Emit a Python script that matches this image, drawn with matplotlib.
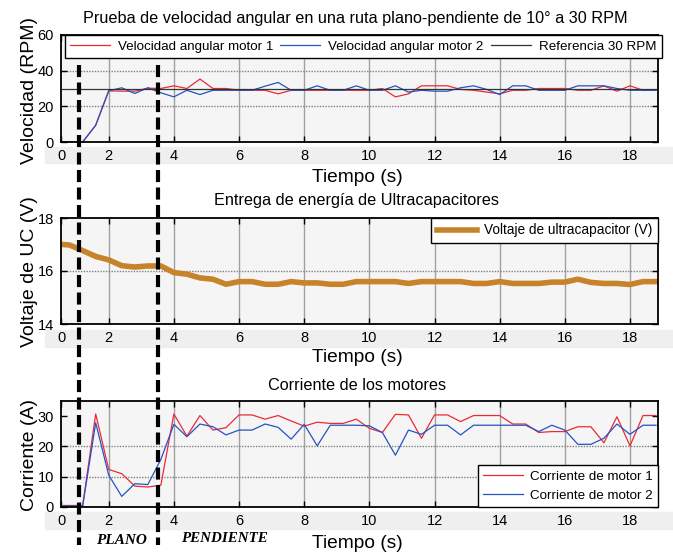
import matplotlib
matplotlib.use("Agg")
import matplotlib.pyplot as plt
from matplotlib.lines import Line2D
from matplotlib.patches import Rectangle
from matplotlib.transforms import blended_transform_factory

# muestras cada 0.4 s
tiempo = [0.4, 0.8, 1.2, 1.6, 2.0, 2.4, 2.8, 3.2, 3.6, 4.0,
          4.4, 4.8, 5.2, 5.6, 6.0, 6.4, 6.8, 7.2, 7.6, 8.0,
          8.4, 8.8, 9.2, 9.6, 10.0, 10.4, 10.8, 11.2, 11.6, 12.0,
          12.4, 12.8, 13.2, 13.6, 14.0, 14.4, 14.8, 15.2, 15.6, 16.0,
          16.4, 16.8, 17.2, 17.6, 18.0, 18.4, 18.8]

vel_motor1 = [0, 0, 0, 9.4, 28.7, 28.5, 28.5, 30.2, 30.0, 31.5,
              30.0, 35.3, 30.0, 30.0, 29.0, 29.0, 29.0, 27.0, 29.0, 29.0,
              29.0, 29.0, 29.0, 29.0, 29.0, 30.0, 25.3, 27.0, 31.5, 31.5,
              31.5, 29.5, 29.0, 28.0, 27.0, 29.0, 29.0, 30.0, 30.0, 30.0,
              29.0, 29.0, 31.5, 28.5, 31.5, 29.0, 29.0]
vel_motor2 = [0, 0, 0, 9.4, 28.7, 30.4, 27.2, 30.4, 27.6, 25.3,
              29.0, 26.6, 29.0, 29.0, 29.0, 29.0, 31.3, 33.4, 29.0, 29.0,
              31.5, 29.0, 29.0, 31.5, 29.0, 29.0, 31.5, 28.0, 29.0, 28.5,
              28.5, 30.4, 31.5, 29.5, 26.6, 31.5, 31.5, 29.0, 29.0, 29.0,
              31.5, 31.5, 31.5, 30.0, 29.0, 29.0, 29.0]
vel_referencia = 30

voltaje_uc = [17.02, 16.98, 16.77, 16.55, 16.42, 16.20, 16.15, 16.19, 16.19, 15.94,
              15.88, 15.74, 15.69, 15.50, 15.60, 15.60, 15.50, 15.50, 15.60, 15.55,
              15.55, 15.50, 15.50, 15.60, 15.60, 15.60, 15.60, 15.53, 15.60, 15.60,
              15.60, 15.60, 15.53, 15.53, 15.60, 15.53, 15.53, 15.53, 15.58, 15.58,
              15.69, 15.57, 15.53, 15.53, 15.49, 15.60, 15.60]

corr_motor1 = [0.5, 0.5, 0.5, 30.7, 12.4, 11.0, 6.9, 6.6, 7.2, 30.7,
               23.4, 30.2, 25.4, 26.2, 30.4, 30.4, 29.0, 30.2, 28.4, 26.7,
               28.0, 27.6, 27.6, 29.0, 26.0, 24.6, 30.6, 30.4, 22.7, 30.4,
               30.4, 28.2, 30.2, 30.2, 30.2, 27.4, 27.4, 24.6, 24.9, 24.9,
               26.5, 26.5, 21.2, 29.8, 20.2, 30.2, 30.2]
corr_motor2 = [0.3, 0.3, 0.3, 27.8, 10.5, 3.5, 7.7, 7.4, 15.7, 27.3,
               23.2, 27.4, 26.5, 23.8, 25.4, 25.4, 27.4, 26.3, 22.4, 27.3,
               20.2, 27.0, 27.0, 27.0, 26.8, 24.6, 17.1, 25.4, 24.0, 27.0,
               27.0, 23.8, 27.0, 27.0, 27.0, 27.0, 27.0, 24.9, 27.0, 25.4,
               20.7, 20.7, 22.7, 27.4, 24.0, 27.0, 27.0]

# cambio de tramo: plano -> pendiente
t_inicio = 1.1
t_pendiente = 3.5

x_min, x_max = 0.535, 18.86
x_ticks = [x_min, 2, 4, 6, 8, 10, 12, 14, 16, 18]
x_ticklabels = ["0", "2", "4", "6", "8", "10", "12", "14", "16", "18"]

ROJO = "#ec2a36"
AZUL = "#2453c4"
NARANJA = "#c6832a"
FONDO = "#f5f5f5"
plt.rcParams["font.family"] = ["Liberation Sans", "DejaVu Sans"]

W, H = 673, 554
fig = plt.figure(figsize=(W / 100, H / 100), dpi=100)


def caja(top, bottom):
    return [61 / W, 1 - bottom / H, (658 - 61) / W, (bottom - top) / H]


def estilo(ax, yticks, ylim):
    ax.set_facecolor(FONDO)
    ax.set_xlim(x_min, x_max)
    ax.set_ylim(*ylim)
    ax.set_xticks(x_ticks)
    ax.set_xticklabels(x_ticklabels, fontsize=10.5)
    ax.set_yticks(yticks)
    ax.set_yticklabels([str(v) for v in yticks], fontsize=10.5)
    ax.tick_params(direction="in", top=True, right=True, length=4, width=1, pad=5)
    for x in x_ticks[1:]:
        ax.axvline(x, color="#a0a0a0", lw=1, zorder=0.5)
    for y in yticks[1:-1]:
        ax.axhline(y, color="#808080", lw=1, ls=(0, (1, 1)), zorder=0.5)
    for s in ax.spines.values():
        s.set_linewidth(1.3)


def marco(leg):
    f = leg.get_frame()
    f.set_edgecolor("black")
    f.set_linewidth(1.0)
    f.set_facecolor("white")
    f.set_alpha(1)


# bandas grises bajo los ejes
for top, bottom in [(147, 163), (330, 347), (512, 529)]:
    fig.add_artist(Rectangle((45 / W, 1 - bottom / H), (W - 45) / W, (bottom - top) / H,
                             transform=fig.transFigure, color="#efefef", zorder=-1))

# velocidad angular
ax1 = fig.add_axes(caja(35, 142))
estilo(ax1, [0, 20, 40, 60], (0, 60))
ax1.plot(tiempo, vel_motor1, color=ROJO, lw=0.9, label="Velocidad angular motor 1")
ax1.plot(tiempo, vel_motor2, color=AZUL, lw=0.9, label="Velocidad angular motor 2")
ax1.axhline(vel_referencia, color="#333333", lw=0.9, label="Referencia 30 RPM")
leg1 = ax1.legend(loc="upper left", ncol=3, mode="expand", bbox_to_anchor=(0.006, 0.74, 1.0, 0.26),
                  borderaxespad=0, fancybox=False, fontsize=9.6, handlelength=3.0,
                  columnspacing=0.6, handletextpad=0.6)
marco(leg1)

# voltaje de ultracapacitores
ax2 = fig.add_axes(caja(218, 324))
estilo(ax2, [14, 16, 18], (14, 18))
ax2.plot(tiempo, voltaje_uc, color=NARANJA, lw=4, solid_joinstyle="round",
         label="Voltaje de ultracapacitor (V)")
leg2 = ax2.legend(loc="upper right", borderaxespad=0, fancybox=False, fontsize=9.8,
                  handlelength=3.0, handletextpad=0.5)
marco(leg2)

# corriente de motores
ax3 = fig.add_axes(caja(401, 507))
estilo(ax3, [0, 10, 20, 30], (0, 35))
ax3.plot(tiempo, corr_motor1, color=ROJO, lw=0.9, label="Corriente de motor 1")
ax3.plot(tiempo, corr_motor2, color=AZUL, lw=0.9, label="Corriente de motor 2")
leg3 = ax3.legend(loc="lower right", borderaxespad=0, fancybox=False, fontsize=9.6,
                  handlelength=3.0, handletextpad=0.5, labelspacing=0.5)
marco(leg3)

# textos
fig.text(355 / W, 1 - 18 / H, "Prueba de velocidad angular en una ruta plano-pendiente de 10° a 30 RPM",
         ha="center", va="center", fontsize=11.7)
fig.text(357 / W, 1 - 201 / H, "Entrega de energía de Ultracapacitores", ha="center", va="center", fontsize=11.7)
fig.text(357 / W, 1 - 385 / H, "Corriente de los motores", ha="center", va="center", fontsize=11.7)
for yy in [177, 357, 543]:
    fig.text(357 / W, 1 - yy / H, "Tiempo (s)", ha="center", va="center", fontsize=13.8)
fig.text(30 / W, 1 - 90 / H, "Velocidad (RPM)", rotation=90, ha="center", va="center", fontsize=14)
fig.text(30 / W, 1 - 272 / H, "Voltaje de UC (V)", rotation=90, ha="center", va="center", fontsize=14)
fig.text(30 / W, 1 - 455 / H, "Corriente (A)", rotation=90, ha="center", va="center", fontsize=14)
fig.text(121 / W, 1 - 540 / H, "PLANO", ha="center", va="center", fontsize=11,
         family="Liberation Serif", weight="bold", style="italic")
fig.text(224 / W, 1 - 538 / H, "PENDIENTE", ha="center", va="center", fontsize=10.8,
         family="Liberation Serif", weight="bold", style="italic")

# lineas de separacion de tramos
trans = blended_transform_factory(ax1.transData, fig.transFigure)
for xv in [t_inicio, t_pendiente]:
    fig.add_artist(Line2D([xv, xv], [1 - 65 / H, 1 - 545 / H], transform=trans, color="black",
                          lw=3, ls=(0, (2.9, 1.3)), zorder=5))

fig.savefig("out.png", dpi=100)
